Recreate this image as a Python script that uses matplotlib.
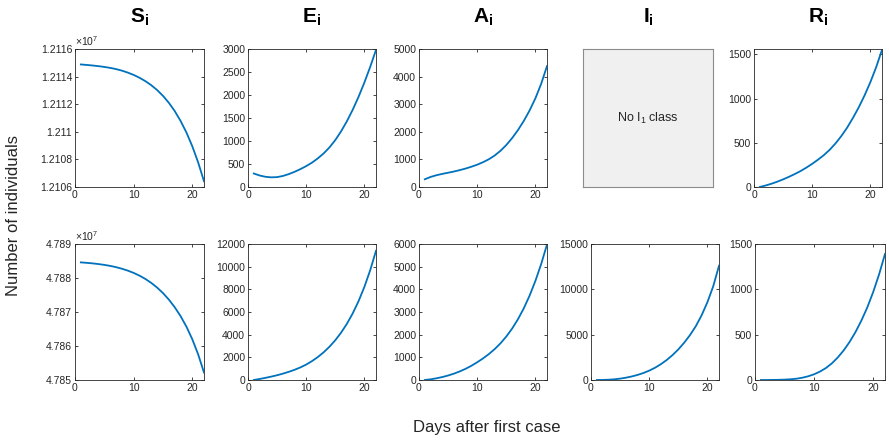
import matplotlib
matplotlib.use('Agg')
import matplotlib.pyplot as plt

plt.rcParams['font.family'] = ['Liberation Sans', 'DejaVu Sans']
plt.rcParams['mathtext.fontset'] = 'custom'
plt.rcParams['mathtext.rm'] = 'Liberation Sans'
plt.rcParams['mathtext.it'] = 'Liberation Sans'
plt.rcParams['mathtext.bf'] = 'Liberation Sans:bold'

days = list(range(1, 23))

# top row (region 1)
s_top = [12114880, 12114845, 12114804, 12114757, 12114701, 12114631, 12114543,
         12114432, 12114291, 12114122, 12113917, 12113671, 12113379, 12113028,
         12112607, 12112104, 12111507, 12110793, 12109951, 12108956, 12107786,
         12106417]
e_top = [293, 250, 222, 210, 215, 240, 280, 330, 388, 454, 530, 622, 730, 860,
         1020, 1210, 1430, 1680, 1960, 2270, 2610, 2980]
a_top = [280, 365, 427, 475, 517, 561, 611, 668, 734, 808, 898, 1005, 1140,
         1310, 1520, 1770, 2060, 2390, 2770, 3210, 3740, 4380]
r_top = [0, 17, 37, 60, 86, 115, 146, 180, 219, 262, 309, 360, 420, 492, 575,
         670, 780, 900, 1035, 1185, 1355, 1550]

# bottom row (region 2)
s_bot = [47884590, 47884460, 47884300, 47884100, 47883860, 47883560, 47883190,
         47882730, 47882170, 47881500, 47880690, 47879720, 47878560, 47877190,
         47875570, 47873660, 47871420, 47868800, 47865700, 47862000, 47857550,
         47852200]
e_bot = [0, 90, 190, 300, 420, 560, 720, 900, 1110, 1361, 1667, 2025, 2444,
         2934, 3507, 4178, 4963, 5880, 6955, 8212, 9680, 11400]
a_bot = [0, 30, 75, 130, 198, 280, 378, 493, 627, 782, 952, 1142, 1362, 1617,
         1917, 2267, 2677, 3157, 3717, 4367, 5117, 5977]
i_bot = [0, 8, 30, 75, 150, 255, 390, 560, 770, 1030, 1350, 1740, 2200, 2740,
         3370, 4100, 4940, 5920, 7120, 8570, 10320, 12600]
r_bot = [0, 0, 1, 2, 4, 8, 14, 25, 41, 63, 93, 132, 183, 248, 326, 419, 528,
         655, 800, 970, 1165, 1390]

titles = ['S', 'E', 'A', 'I', 'R']
s_top_ticks = [12106000, 12108000, 12110000, 12112000, 12114000, 12116000]
s_top_labels = ['1.2106', '1.2108', '1.211', '1.2112', '1.2114', '1.2116']
s_bot_ticks = [47850000, 47860000, 47870000, 47880000, 47890000]
s_bot_labels = ['4.785', '4.786', '4.787', '4.788', '4.789']

W, H = 889, 440
blue = '#0072BD'
axcol = '#262626'


def px_axes(fig, x0, x1, y0, y1):
    return fig.add_axes([x0 / W, 1 - y1 / H, (x1 - x0) / W, (y1 - y0) / H])


def style(ax):
    ax.set_xlim(0, 22)
    ax.set_xticks([0, 10, 20])
    ax.tick_params(direction='in', length=2.5, width=0.6, labelsize=7.5,
                   top=True, right=True, colors=axcol, pad=2)
    for sp in ax.spines.values():
        sp.set_linewidth(0.6)
        sp.set_color(axcol)


fig = plt.figure(figsize=(8.89, 4.40), dpi=100)

cols = [(75, 204), (248, 376), (419, 547), (583, 713), (754, 882)]
cols_bot = [(75, 204), (248, 376), (419, 547), (591, 719), (755, 885)]
top_y = (49, 187)
bot_y = (244, 380)

top_data = [s_top, e_top, a_top, None, r_top]
top_lims = [(12106000, 12116000), (0, 3000), (0, 5000), None, (0, 1560)]
top_ticks = [s_top_ticks, [0, 500, 1000, 1500, 2000, 2500, 3000],
             [0, 1000, 2000, 3000, 4000, 5000], None, [0, 500, 1000, 1500]]

bot_data = [s_bot, e_bot, a_bot, i_bot, r_bot]
bot_lims = [(47850000, 47890000), (0, 12000), (0, 6000), (0, 15000), (0, 1500)]
bot_ticks = [s_bot_ticks, [0, 2000, 4000, 6000, 8000, 10000, 12000],
             [0, 1000, 2000, 3000, 4000, 5000, 6000], [0, 5000, 10000, 15000],
             [0, 500, 1000, 1500]]

for k in range(5):
    x0, x1 = cols[k]
    ax = px_axes(fig, x0, x1, *top_y)
    if top_data[k] is None:
        ax.set_facecolor('#f0f0f0')
        ax.set_xticks([])
        ax.set_yticks([])
        for sp in ax.spines.values():
            sp.set_color('#8c8c8c')
            sp.set_linewidth(0.8)
        ax.text(0.5, 0.5, 'No I$_1$ class', transform=ax.transAxes,
                ha='center', va='center', fontsize=9, color='#262626')
    else:
        ax.plot(days, top_data[k], color=blue, lw=1.3)
        style(ax)
        ax.set_ylim(*top_lims[k])
        ax.set_yticks(top_ticks[k])
        if k == 0:
            ax.set_yticklabels(s_top_labels)
            ax.text(0.0, 1.01, '×10$^{7}$', transform=ax.transAxes,
                    ha='left', va='bottom', fontsize=7.5, color=axcol)
    fig.text((x0 + x1) / 2 / W, 1 - 17 / H, r'$\mathbf{%s_i}$' % titles[k],
             ha='center', va='center', fontsize=15)

    bx0, bx1 = cols_bot[k]
    ax = px_axes(fig, bx0, bx1, *bot_y)
    ax.plot(days, bot_data[k], color=blue, lw=1.3)
    style(ax)
    ax.set_ylim(*bot_lims[k])
    ax.set_yticks(bot_ticks[k])
    if k == 0:
        ax.set_yticklabels(s_bot_labels)
        ax.text(0.0, 1.01, '×10$^{7}$', transform=ax.transAxes,
                ha='left', va='bottom', fontsize=7.5, color=axcol)

fig.text(14 / W, 1 - 215 / H, 'Number of individuals', rotation=90,
         ha='center', va='center', fontsize=12, color='#262626')
fig.text(487 / W, 1 - 427 / H, 'Days after first case',
         ha='center', va='center', fontsize=12, color='#262626')

fig.savefig('out.png', dpi=100)
